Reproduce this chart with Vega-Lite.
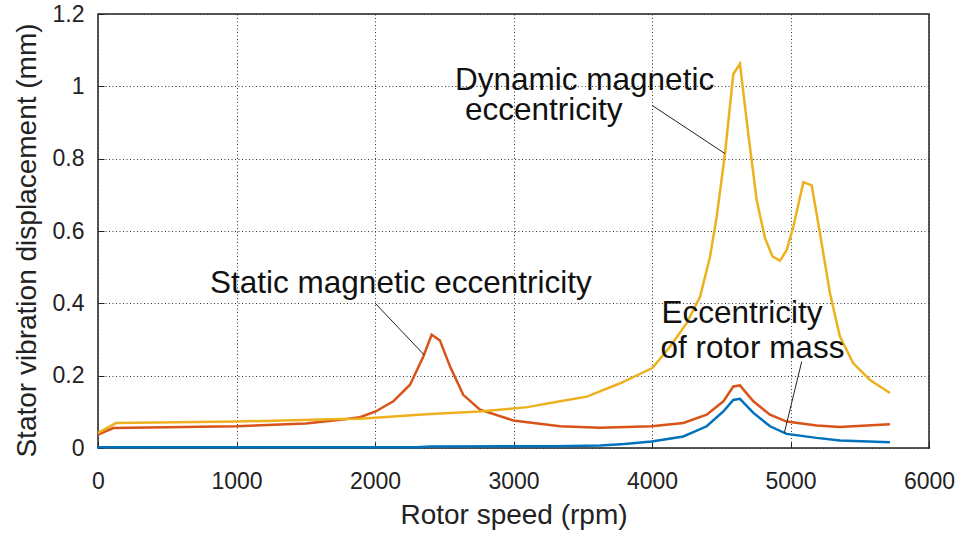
{
  "$schema": "https://vega.github.io/schema/vega-lite/v6.json",
  "width": 831,
  "height": 434,
  "autosize": {"type": "none"},
  "padding": {"left": 98, "top": 14, "right": 33, "bottom": 89},
  "background": "white",
  "config": {
    "view": {"stroke": "#222", "strokeWidth": 1.5},
    "font": "Liberation Sans",
    "axis": {
      "grid": true,
      "gridColor": "#333",
      "gridDash": [1, 2.5],
      "gridWidth": 1,
      "gridOpacity": 1,
      "domain": false,
      "ticks": true,
      "tickSize": -6,
      "tickColor": "#222",
      "tickWidth": 1,
      "labelFont": "Liberation Sans",
      "labelFontSize": 23,
      "labelColor": "#222",
      "titleFont": "Liberation Sans",
      "titleFontSize": 28,
      "titleFontWeight": "normal",
      "titleColor": "#222"
    }
  },
  "datasets": {
    "curves": [
      {"s": "Eccentricity of rotor mass", "rpm": 0, "v": 0.002},
      {"s": "Eccentricity of rotor mass", "rpm": 1000, "v": 0.002},
      {"s": "Eccentricity of rotor mass", "rpm": 2300, "v": 0.002},
      {"s": "Eccentricity of rotor mass", "rpm": 2400, "v": 0.004},
      {"s": "Eccentricity of rotor mass", "rpm": 3000, "v": 0.005},
      {"s": "Eccentricity of rotor mass", "rpm": 3300, "v": 0.005},
      {"s": "Eccentricity of rotor mass", "rpm": 3625, "v": 0.007},
      {"s": "Eccentricity of rotor mass", "rpm": 3800, "v": 0.011},
      {"s": "Eccentricity of rotor mass", "rpm": 3998, "v": 0.018},
      {"s": "Eccentricity of rotor mass", "rpm": 4226, "v": 0.032},
      {"s": "Eccentricity of rotor mass", "rpm": 4395, "v": 0.06},
      {"s": "Eccentricity of rotor mass", "rpm": 4515, "v": 0.101},
      {"s": "Eccentricity of rotor mass", "rpm": 4587, "v": 0.133},
      {"s": "Eccentricity of rotor mass", "rpm": 4635, "v": 0.136},
      {"s": "Eccentricity of rotor mass", "rpm": 4732, "v": 0.097},
      {"s": "Eccentricity of rotor mass", "rpm": 4852, "v": 0.06},
      {"s": "Eccentricity of rotor mass", "rpm": 4972, "v": 0.039},
      {"s": "Eccentricity of rotor mass", "rpm": 5189, "v": 0.028},
      {"s": "Eccentricity of rotor mass", "rpm": 5357, "v": 0.021},
      {"s": "Eccentricity of rotor mass", "rpm": 5718, "v": 0.016},

      {"s": "Static magnetic eccentricity", "rpm": 0, "v": 0.037},
      {"s": "Static magnetic eccentricity", "rpm": 110, "v": 0.055},
      {"s": "Static magnetic eccentricity", "rpm": 1000, "v": 0.06},
      {"s": "Static magnetic eccentricity", "rpm": 1500, "v": 0.068},
      {"s": "Static magnetic eccentricity", "rpm": 1750, "v": 0.078},
      {"s": "Static magnetic eccentricity", "rpm": 1892, "v": 0.085},
      {"s": "Static magnetic eccentricity", "rpm": 2005, "v": 0.101},
      {"s": "Static magnetic eccentricity", "rpm": 2132, "v": 0.129},
      {"s": "Static magnetic eccentricity", "rpm": 2253, "v": 0.175},
      {"s": "Static magnetic eccentricity", "rpm": 2349, "v": 0.253},
      {"s": "Static magnetic eccentricity", "rpm": 2409, "v": 0.313},
      {"s": "Static magnetic eccentricity", "rpm": 2469, "v": 0.297},
      {"s": "Static magnetic eccentricity", "rpm": 2542, "v": 0.225},
      {"s": "Static magnetic eccentricity", "rpm": 2637, "v": 0.147},
      {"s": "Static magnetic eccentricity", "rpm": 2758, "v": 0.106},
      {"s": "Static magnetic eccentricity", "rpm": 2999, "v": 0.076},
      {"s": "Static magnetic eccentricity", "rpm": 3336, "v": 0.06},
      {"s": "Static magnetic eccentricity", "rpm": 3625, "v": 0.056},
      {"s": "Static magnetic eccentricity", "rpm": 3998, "v": 0.06},
      {"s": "Static magnetic eccentricity", "rpm": 4226, "v": 0.069},
      {"s": "Static magnetic eccentricity", "rpm": 4395, "v": 0.092},
      {"s": "Static magnetic eccentricity", "rpm": 4515, "v": 0.129},
      {"s": "Static magnetic eccentricity", "rpm": 4587, "v": 0.17},
      {"s": "Static magnetic eccentricity", "rpm": 4635, "v": 0.173},
      {"s": "Static magnetic eccentricity", "rpm": 4732, "v": 0.129},
      {"s": "Static magnetic eccentricity", "rpm": 4852, "v": 0.092},
      {"s": "Static magnetic eccentricity", "rpm": 4972, "v": 0.073},
      {"s": "Static magnetic eccentricity", "rpm": 5189, "v": 0.062},
      {"s": "Static magnetic eccentricity", "rpm": 5357, "v": 0.058},
      {"s": "Static magnetic eccentricity", "rpm": 5550, "v": 0.062},
      {"s": "Static magnetic eccentricity", "rpm": 5718, "v": 0.066},

      {"s": "Dynamic magnetic eccentricity", "rpm": 0, "v": 0.042},
      {"s": "Dynamic magnetic eccentricity", "rpm": 130, "v": 0.069},
      {"s": "Dynamic magnetic eccentricity", "rpm": 1000, "v": 0.073},
      {"s": "Dynamic magnetic eccentricity", "rpm": 1750, "v": 0.08},
      {"s": "Dynamic magnetic eccentricity", "rpm": 1892, "v": 0.081},
      {"s": "Dynamic magnetic eccentricity", "rpm": 2400, "v": 0.094},
      {"s": "Dynamic magnetic eccentricity", "rpm": 2758, "v": 0.101},
      {"s": "Dynamic magnetic eccentricity", "rpm": 3100, "v": 0.113},
      {"s": "Dynamic magnetic eccentricity", "rpm": 3336, "v": 0.129},
      {"s": "Dynamic magnetic eccentricity", "rpm": 3530, "v": 0.142},
      {"s": "Dynamic magnetic eccentricity", "rpm": 3770, "v": 0.179},
      {"s": "Dynamic magnetic eccentricity", "rpm": 4002, "v": 0.221},
      {"s": "Dynamic magnetic eccentricity", "rpm": 4130, "v": 0.28},
      {"s": "Dynamic magnetic eccentricity", "rpm": 4250, "v": 0.345},
      {"s": "Dynamic magnetic eccentricity", "rpm": 4347, "v": 0.418},
      {"s": "Dynamic magnetic eccentricity", "rpm": 4419, "v": 0.529},
      {"s": "Dynamic magnetic eccentricity", "rpm": 4467, "v": 0.639},
      {"s": "Dynamic magnetic eccentricity", "rpm": 4527, "v": 0.814},
      {"s": "Dynamic magnetic eccentricity", "rpm": 4587, "v": 1.034},
      {"s": "Dynamic magnetic eccentricity", "rpm": 4635, "v": 1.062},
      {"s": "Dynamic magnetic eccentricity", "rpm": 4695, "v": 0.869},
      {"s": "Dynamic magnetic eccentricity", "rpm": 4756, "v": 0.685},
      {"s": "Dynamic magnetic eccentricity", "rpm": 4816, "v": 0.58},
      {"s": "Dynamic magnetic eccentricity", "rpm": 4871, "v": 0.529},
      {"s": "Dynamic magnetic eccentricity", "rpm": 4924, "v": 0.518},
      {"s": "Dynamic magnetic eccentricity", "rpm": 4972, "v": 0.547},
      {"s": "Dynamic magnetic eccentricity", "rpm": 5020, "v": 0.611},
      {"s": "Dynamic magnetic eccentricity", "rpm": 5093, "v": 0.735},
      {"s": "Dynamic magnetic eccentricity", "rpm": 5153, "v": 0.726},
      {"s": "Dynamic magnetic eccentricity", "rpm": 5213, "v": 0.593},
      {"s": "Dynamic magnetic eccentricity", "rpm": 5285, "v": 0.428},
      {"s": "Dynamic magnetic eccentricity", "rpm": 5357, "v": 0.308},
      {"s": "Dynamic magnetic eccentricity", "rpm": 5453, "v": 0.234},
      {"s": "Dynamic magnetic eccentricity", "rpm": 5574, "v": 0.188},
      {"s": "Dynamic magnetic eccentricity", "rpm": 5718, "v": 0.152}
    ],
    "leaders": [
      {"x": 2002, "y": 0.40, "x2": 2356, "y2": 0.257},
      {"x": 4002, "y": 0.947, "x2": 4527, "y2": 0.814},
      {"x": 5081, "y": 0.239, "x2": 4955, "y2": 0.041}
    ],
    "labels": [
      {"x": 809, "y": 0.428, "t": "Static magnetic eccentricity"},
      {"x": 2578, "y": 0.991, "t": "Dynamic magnetic"},
      {"x": 2650, "y": 0.906, "t": "eccentricity"},
      {"x": 4069, "y": 0.345, "t": "Eccentricity"},
      {"x": 4062, "y": 0.248, "t": "of rotor mass"}
    ]
  },
  "layer": [
    {
      "data": {"name": "curves"},
      "mark": {"type": "line", "strokeWidth": 2.5, "clip": false},
      "encoding": {
        "x": {
          "field": "rpm", "type": "quantitative",
          "scale": {"domain": [0, 6000], "nice": false},
          "axis": {"values": [0, 1000, 2000, 3000, 4000, 5000, 6000], "format": "d", "title": "Rotor speed (rpm)",
                   "labelPadding": 28, "titleY": 75, "titleBaseline": "alphabetic", "labelFlush": false}
        },
        "y": {
          "field": "v", "type": "quantitative",
          "scale": {"domain": [0, 1.2], "nice": false},
          "axis": {"values": [0, 0.2, 0.4, 0.6, 0.8, 1, 1.2], "format": "~g", "title": "Stator vibration displacement (mm)",
                   "labelPadding": 20, "titleX": -71, "titleY": 226, "titleAngle": -90, "titleAlign": "center", "titleBaseline": "middle", "labelFlush": false}
        },
        "color": {
          "field": "s", "type": "nominal",
          "scale": {
            "domain": ["Eccentricity of rotor mass", "Static magnetic eccentricity", "Dynamic magnetic eccentricity"],
            "range": ["#0072BD", "#D95319", "#EDB120"]
          },
          "legend": null
        },
        "order": {"field": "rpm", "type": "quantitative"}
      }
    },
    {
      "data": {"name": "leaders"},
      "mark": {"type": "rule", "color": "#222", "strokeWidth": 1},
      "encoding": {
        "x": {"field": "x", "type": "quantitative"},
        "y": {"field": "y", "type": "quantitative"},
        "x2": {"field": "x2"},
        "y2": {"field": "y2"}
      }
    },
    {
      "data": {"name": "labels"},
      "mark": {"type": "text", "align": "left", "baseline": "alphabetic", "fontSize": 31.5, "font": "Liberation Sans", "color": "#111"},
      "encoding": {
        "x": {"field": "x", "type": "quantitative"},
        "y": {"field": "y", "type": "quantitative"},
        "text": {"field": "t"}
      }
    }
  ]
}
